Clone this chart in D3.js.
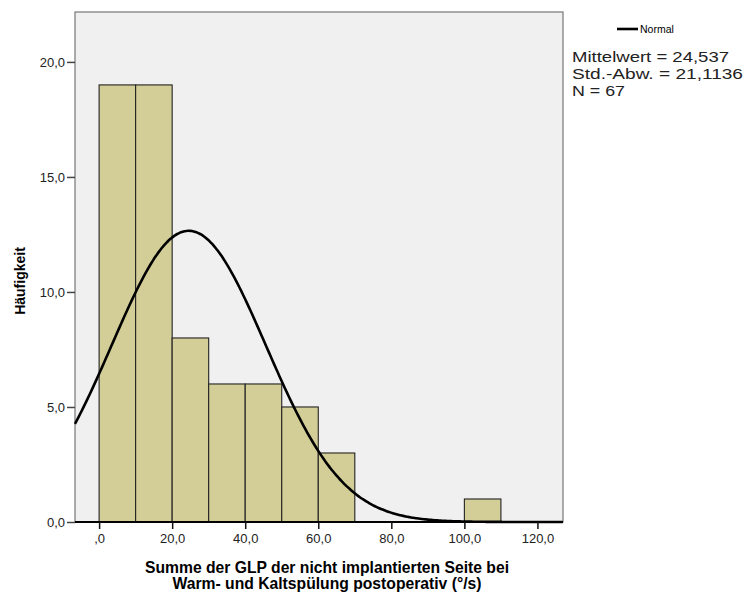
<!DOCTYPE html>
<html><head><meta charset="utf-8">
<script src="https://cdn.jsdelivr.net/npm/d3@7"></script>
<style>body{margin:0;background:#fff}svg{display:block}text{font-family:"Liberation Sans",Arial,sans-serif}</style>
</head><body><svg id="c" width="748" height="594"></svg>
<script>
const binStarts = [0, 10, 20, 30, 40, 50, 60, 100];
const counts    = [19, 19, 8, 6, 6, 5, 3, 1];
const binWidth = 10;
const xTicks = [0, 20, 40, 60, 80, 100, 120];
const xTickLabels = [",0", "20,0", "40,0", "60,0", "80,0", "100,0", "120,0"];
const yTicks = [0, 5, 10, 15, 20];
const yTickLabels = ["0,0", "5,0", "10,0", "15,0", "20,0"];
const mean = 24.537, sd = 21.1136, n = 67;
const statLines = ["Mittelwert = 24,537", "Std.-Abw. = 21,1136", "N = 67"];
const statWidths = [157, 171, 53];

const svg = d3.select("#c");
const L = 75, R = 563, T = 12, B = 522;
const x = d3.scaleLinear().domain([-6.6, 127]).range([L, R]);
const y = d3.scaleLinear().domain([0, 22.17]).range([B, T]);

svg.append("rect").attr("x", L).attr("y", T).attr("width", R - L).attr("height", B - T)
  .attr("fill", "#f0f0f0").attr("stroke", "#777").attr("stroke-width", 1.2);

svg.selectAll("rect.bar").data(binStarts).enter().append("rect").attr("class", "bar")
  .attr("x", d => x(d)).attr("width", d => x(d + binWidth) - x(d))
  .attr("y", (d, i) => y(counts[i])).attr("height", (d, i) => y(0) - y(counts[i]))
  .attr("fill", "#d3ce98").attr("stroke", "#222").attr("stroke-width", 1.1);

// normal curve from legend parameters
const pts = d3.range(-6.6, 127.01, 0.5).map(v => [v, n * binWidth / (sd * Math.sqrt(2 * Math.PI)) * Math.exp(-0.5 * ((v - mean) / sd) ** 2)]);
svg.append("path").datum(pts).attr("fill", "none").attr("stroke", "#000").attr("stroke-width", 2.6)
  .attr("d", d3.line().x(d => x(d[0])).y(d => y(d[1])).curve(d3.curveBasis));

// y axis
const ya = svg.append("g").attr("transform", `translate(${L},0)`)
  .call(d3.axisLeft(y).tickValues(yTicks).tickFormat((d, i) => yTickLabels[i]).tickSize(8).tickPadding(2));
ya.select(".domain").remove();
ya.selectAll("line").attr("stroke", "#444").attr("stroke-width", 1.5);
ya.selectAll("text").attr("font-size", 13).attr("fill", "#222").attr("dy", "0.35em");

// x axis
const xa = svg.append("g").attr("transform", `translate(0,${B})`)
  .call(d3.axisBottom(x).tickValues(xTicks).tickFormat((d, i) => xTickLabels[i]).tickSize(7).tickPadding(5));
xa.select(".domain").attr("d", `M${L},0H${R}`).attr("stroke", "#000").attr("stroke-width", 2.2);
xa.selectAll("line").attr("stroke", "#111").attr("stroke-width", 1.5);
xa.selectAll("text").attr("font-size", 13).attr("fill", "#222");

// titles
svg.append("text").attr("transform", "translate(25,281) rotate(-90)").attr("text-anchor", "middle")
  .attr("font-size", 14).attr("font-weight", "bold").text("Häufigkeit");
const xt = svg.append("text").attr("x", 327).attr("y", 573).attr("text-anchor", "middle")
  .attr("font-size", 15.7).attr("font-weight", "bold");
xt.append("tspan").attr("x", 327).text("Summe der GLP der nicht implantierten Seite bei");
xt.append("tspan").attr("x", 327).attr("dy", 16).text("Warm- und Kaltspülung postoperativ (°/s)");

// legend
svg.append("line").attr("x1", 617).attr("x2", 638).attr("y1", 29).attr("y2", 29).attr("stroke", "#000").attr("stroke-width", 2.6);
svg.append("text").attr("x", 640).attr("y", 33).attr("font-size", 10.5).text("Normal");
svg.selectAll("text.stat").data(statLines).enter().append("text").attr("class", "stat")
  .attr("x", 572).attr("y", (d, i) => 61.5 + i * 17.4).attr("font-size", 15.5).attr("fill", "#222")
  .attr("textLength", (d, i) => statWidths[i]).attr("lengthAdjust", "spacingAndGlyphs").text(d => d);
</script></body></html>
